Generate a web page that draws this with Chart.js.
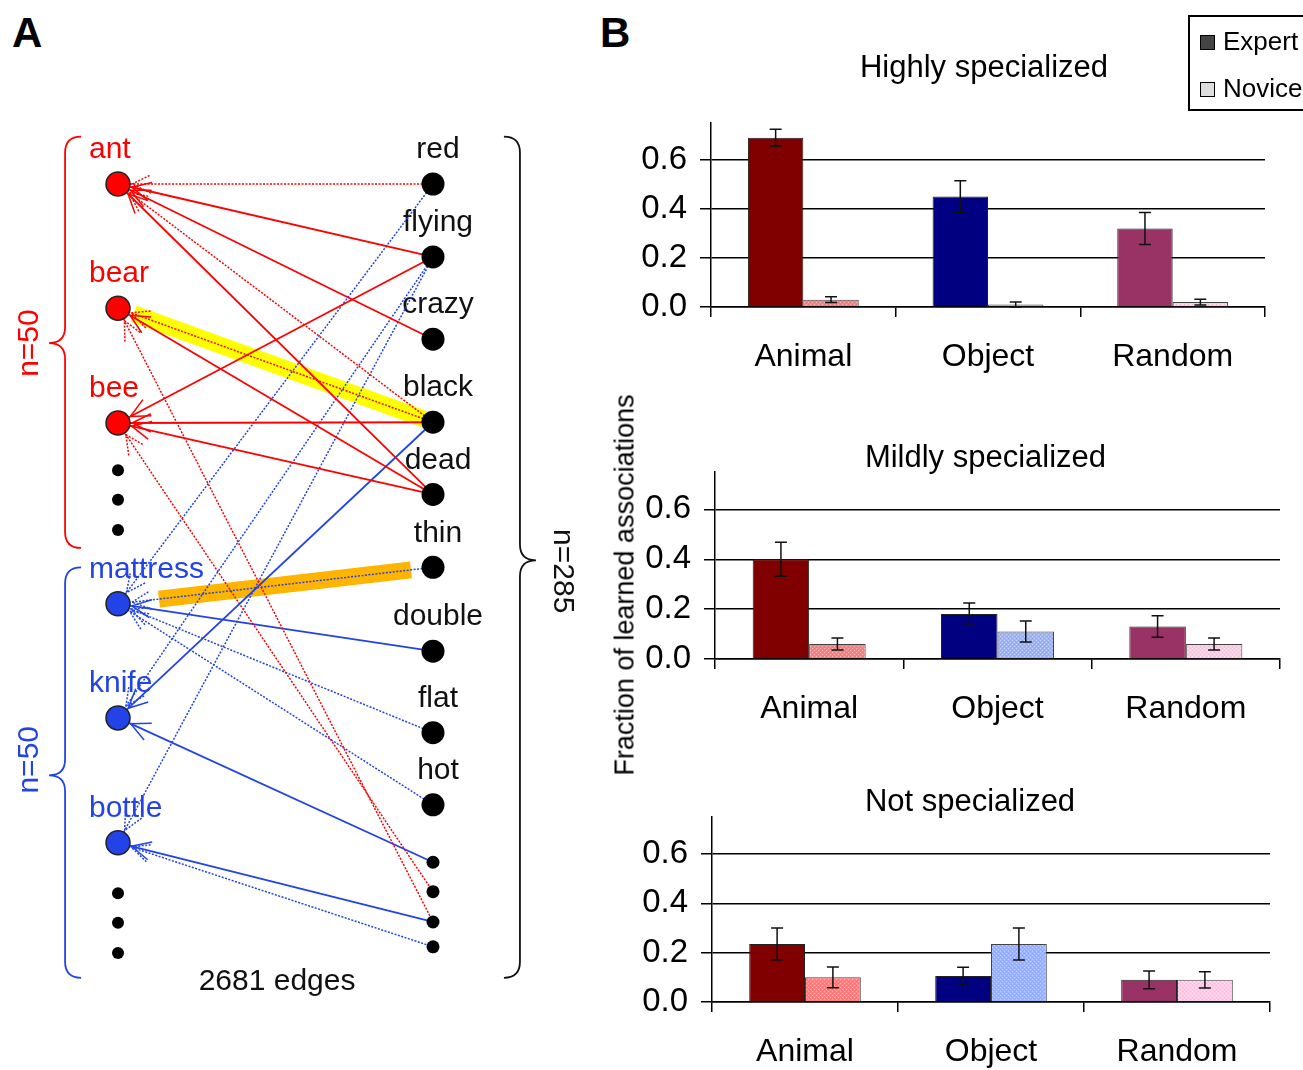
<!DOCTYPE html>
<html>
<head>
<meta charset="utf-8">
<script src="https://cdn.jsdelivr.net/npm/chart.js@4/dist/chart.umd.min.js"></script>
<style>
  html, body { margin: 0; padding: 0; background: #fff; overflow: hidden; }
  body { width: 1303px; height: 1070px; position: relative; font-family: 'Liberation Sans', Arial, sans-serif; }
  canvas { position: absolute; }
  .panel { position: absolute; font-weight: bold; font-size: 42px; line-height: 1; }
  .legend { position: absolute; left: 1188px; top: 15px; width: 140px; height: 92px; border: 2px solid #000; font-size: 26px; }
  .legend div { position: absolute; left: 10px; height: 30px; line-height: 30px; }
  .legend span { display: inline-block; width: 13px; height: 13px; border: 1.5px solid #000; margin-right: 8px; vertical-align: 0px; }
  .ytitle { position: absolute; left: 625px; top: 585px; transform: translate(-50%, -50%) rotate(-90deg); font-size: 27px; white-space: nowrap; }
</style>
</head>
<body>
<div class="panel" style="left:12px;top:12px;">A</div>
<div class="panel" style="left:600px;top:12px;">B</div>
<canvas id="net" width="590" height="1070" style="left:0;top:0;"></canvas>
<canvas id="high" width="703" height="360" style="left:600px;top:30px;"></canvas>
<canvas id="mild" width="703" height="350" style="left:600px;top:400px;"></canvas>
<canvas id="none" width="703" height="315" style="left:600px;top:755px;"></canvas>
<div class="legend">
  <div style="top:9px;"><span style="background:#444;"></span>Expert</div>
  <div style="top:56px;"><span style="background:#ddd;"></span>Novice</div>
</div>
<div class="ytitle">Fraction of learned associations</div>
<script>
Chart.defaults.font.family = "'Liberation Sans', Arial, sans-serif";
Chart.defaults.color = "#000";

// ---- panel A: bipartite network ----
const leftLabels = ["ant", "bear", "bee", "", "", "", "mattress", "knife", "bottle", "", "", ""];
const leftGroup = ["animal", "animal", "animal", "animal", "animal", "animal", "object", "object", "object", "object", "object", "object"];
const leftPos = [0, 1.6, 3.08, 3.69, 4.07, 4.46, 5.41, 6.88, 8.49, 9.14, 9.52, 9.91];
const rightLabels = ["red", "flying", "crazy", "black", "dead", "thin", "double", "flat", "hot", "", "", "", ""];
const rightPos = [0, 0.94, 2.0, 3.07, 4.0, 4.94, 6.02, 7.07, 8.0, 8.74, 9.12, 9.51, 9.83];
// [feature index, noun index, solid "s" / dotted "d"]
const edges = [
  [0, 0, "d"], [1, 0, "s"], [2, 0, "s"], [4, 0, "s"], [3, 0, "d"],
  [1, 2, "s"], [3, 1, "d"], [4, 1, "s"], [3, 2, "s"], [4, 2, "s"],
  [11, 1, "d"], [10, 2, "d"],
  [0, 6, "d"], [1, 7, "d"], [1, 8, "d"], [3, 7, "s"],
  [5, 6, "d"], [6, 6, "s"], [7, 6, "d"], [8, 6, "d"],
  [9, 7, "s"], [11, 8, "s"], [12, 8, "d"]
];
// [feature index, noun index, colour, start fraction, end fraction]
const highlights = [
  [3, 1, "#ffff00", -0.01, 0.95],
  [5, 6, "#ffb400", 0.07, 0.87]
];
const groupColor = { animal: "#ff0000", object: "#2244e6" };

const braces = [
  { x: -0.168, y0: -0.61, y1: 4.69, ym: 2.05, dir: -1, color: "#ff0000", label: "n=50", lx: -0.279, ly: 2.05, rot: -1 },
  { x: -0.168, y0: 4.94, y1: 10.23, ym: 7.62, dir: -1, color: "#2244e6", label: "n=50", lx: -0.279, ly: 7.42, rot: -1 },
  { x: 1.276, y0: -0.61, y1: 10.23, ym: 4.85, dir: 1, color: "#111", label: "n=285", lx: 1.41, ly: 4.99, rot: 1 }
];

function drawBrace(ctx, px, py0, py1, pym, dir, r) {
  ctx.beginPath();
  ctx.moveTo(px - dir * r, py0);
  ctx.quadraticCurveTo(px, py0, px, py0 + r);
  ctx.lineTo(px, pym - r);
  ctx.quadraticCurveTo(px, pym, px + dir * r, pym);
  ctx.quadraticCurveTo(px, pym, px, pym + r);
  ctx.lineTo(px, py1 - r);
  ctx.quadraticCurveTo(px, py1, px - dir * r, py1);
  ctx.stroke();
}

const netDeco = {
  id: "netDeco",
  beforeDatasetsDraw(chart) {
    const { ctx, scales: { x, y } } = chart;
    ctx.save();
    highlights.forEach(([r, l, color, t0, t1]) => {
      const xr = x.getPixelForValue(1), yr = y.getPixelForValue(rightPos[r]);
      const xl = x.getPixelForValue(0), yl = y.getPixelForValue(leftPos[l]);
      ctx.beginPath();
      ctx.moveTo(xr + (xl - xr) * t0, yr + (yl - yr) * t0);
      ctx.lineTo(xr + (xl - xr) * t1, yr + (yl - yr) * t1);
      ctx.strokeStyle = color;
      ctx.lineWidth = 17;
      ctx.lineCap = "butt";
      ctx.stroke();
    });
    ctx.font = "30px 'Liberation Sans', Arial, sans-serif";
    ctx.textBaseline = "middle";
    leftLabels.forEach((lab, i) => {
      if (!lab) return;
      ctx.fillStyle = groupColor[leftGroup[i]];
      ctx.textAlign = "left";
      ctx.fillText(lab, x.getPixelForValue(0) - 29, y.getPixelForValue(leftPos[i]) - 34);
    });
    rightLabels.forEach((lab, i) => {
      if (!lab) return;
      ctx.fillStyle = "#111";
      ctx.textAlign = "center";
      ctx.fillText(lab, x.getPixelForValue(1) + 5, y.getPixelForValue(rightPos[i]) - 34);
    });
    ctx.lineWidth = 1.8;
    braces.forEach(b => {
      ctx.strokeStyle = b.color;
      drawBrace(ctx, x.getPixelForValue(b.x), y.getPixelForValue(b.y0), y.getPixelForValue(b.y1), y.getPixelForValue(b.ym), b.dir, 16);
      ctx.save();
      ctx.translate(x.getPixelForValue(b.lx), y.getPixelForValue(b.ly));
      ctx.rotate(b.rot * Math.PI / 2);
      ctx.fillStyle = b.color;
      ctx.textAlign = "center";
      ctx.fillText(b.label, 0, 0);
      ctx.restore();
    });
    ctx.fillStyle = "#111";
    ctx.textAlign = "center";
    ctx.fillText("2681 edges", x.getPixelForValue(0.505), y.getPixelForValue(10.28));
    ctx.restore();
  },
  afterDatasetsDraw(chart) {
    const { ctx, scales: { x, y } } = chart;
    ctx.save();
    ctx.lineWidth = 1.5;
    edges.forEach(([r, l, kind]) => {
      const xr = x.getPixelForValue(1), yr = y.getPixelForValue(rightPos[r]);
      const xl = x.getPixelForValue(0), yl = y.getPixelForValue(leftPos[l]);
      const len = Math.hypot(xr - xl, yr - yl);
      const dx = (xr - xl) / len, dy = (yr - yl) / len;
      const tx = xl + dx * 14, ty = yl + dy * 14;
      const a = 0.45, s = 21;
      ctx.strokeStyle = groupColor[leftGroup[l]];
      ctx.setLineDash(kind === "d" ? [2, 1.5] : []);
      ctx.beginPath();
      ctx.moveTo(tx + s * (dx * Math.cos(a) - dy * Math.sin(a)), ty + s * (dx * Math.sin(a) + dy * Math.cos(a)));
      ctx.lineTo(tx, ty);
      ctx.lineTo(tx + s * (dx * Math.cos(-a) - dy * Math.sin(-a)), ty + s * (dx * Math.sin(-a) + dy * Math.cos(-a)));
      ctx.stroke();
    });
    ctx.restore();
  }
};

const nodeSets = [
  {
    data: leftLabels.map((l, i) => l ? { x: 0, y: leftPos[i] } : null).filter(Boolean),
    pointBackgroundColor: leftLabels.map((l, i) => l ? groupColor[leftGroup[i]] : null).filter(Boolean),
    pointBorderColor: "#222", pointBorderWidth: 1.5, pointRadius: 12
  },
  {
    data: leftLabels.map((l, i) => l ? null : { x: 0, y: leftPos[i] }).filter(Boolean),
    pointBackgroundColor: "#000", pointBorderWidth: 0, pointRadius: 6
  },
  {
    data: rightLabels.map((l, i) => l ? { x: 1, y: rightPos[i] } : null).filter(Boolean),
    pointBackgroundColor: "#000", pointBorderWidth: 0, pointRadius: 11.5
  },
  {
    data: rightLabels.map((l, i) => l ? null : { x: 1, y: rightPos[i] }).filter(Boolean),
    pointBackgroundColor: "#000", pointBorderWidth: 0, pointRadius: 6.5
  }
];
const edgeSets = edges.map(([r, l, kind]) => ({
  data: [{ x: 1, y: rightPos[r] }, { x: 0, y: leftPos[l] }],
  showLine: true, pointRadius: 0,
  borderColor: groupColor[leftGroup[l]],
  borderWidth: kind === "d" ? 1.5 : 1.8,
  borderDash: kind === "d" ? [2, 1.5] : []
}));

new Chart(document.getElementById("net"), {
  type: "scatter",
  data: { datasets: [...nodeSets, ...edgeSets].map(d => ({ ...d, clip: false })) },
  options: {
    responsive: false,
    animation: false,
    layout: { padding: { left: 118, right: 157, top: 184, bottom: 110 } },
    plugins: { legend: { display: false }, tooltip: { enabled: false } },
    scales: {
      x: { type: "linear", display: false, min: 0, max: 1 },
      y: { type: "linear", display: false, min: 0, max: 10, reverse: true }
    }
  },
  plugins: [netDeco]
});

// ---- panel B: bar charts ----
const groups = ["Animal", "Object", "Random"];
const yTicks = [0, 0.2, 0.4, 0.6];
const expertColors = ["#800000", "#000080", "#993366"];
const noviceColors = ["#ff8080", "#9cb4ff", "#ffcce8"];

const highExpert = [0.69, 0.45, 0.32];
const highExpertErr = [0.035, 0.065, 0.065];
const highNovice = [0.03, 0.01, 0.02];
const highNoviceErr = [0.012, 0.01, 0.012];

const mildExpert = [0.40, 0.18, 0.13];
const mildExpertErr = [0.068, 0.045, 0.043];
const mildNovice = [0.06, 0.11, 0.06];
const mildNoviceErr = [0.024, 0.042, 0.024];

const notExpert = [0.235, 0.105, 0.09];
const notExpertErr = [0.065, 0.036, 0.036];
const notNovice = [0.10, 0.235, 0.09];
const notNoviceErr = [0.042, 0.065, 0.033];

// light stippled fill like the novice bars
function stipple(color) {
  const c = document.createElement("canvas");
  c.width = 4; c.height = 4;
  const g = c.getContext("2d");
  g.fillStyle = color; g.fillRect(0, 0, 4, 4);
  g.fillStyle = "rgba(255,255,255,0.45)";
  g.fillRect(0, 0, 1, 1); g.fillRect(2, 2, 1, 1);
  g.fillStyle = "rgba(0,0,0,0.08)";
  g.fillRect(2, 0, 1, 1); g.fillRect(0, 2, 1, 1);
  return g.createPattern(c, "repeat");
}

const errorBars = {
  id: "errorBars",
  afterDatasetsDraw(chart) {
    const { ctx } = chart;
    const ys = chart.scales.y;
    ctx.save();
    ctx.strokeStyle = "#111";
    ctx.lineWidth = 1.5;
    chart.data.datasets.forEach((ds, di) => {
      chart.getDatasetMeta(di).data.forEach((bar, i) => {
        const top = ys.getPixelForValue(ds.data[i] + ds.errors[i]);
        const bot = ys.getPixelForValue(ds.data[i] - ds.errors[i]);
        ctx.beginPath();
        ctx.moveTo(bar.x, top); ctx.lineTo(bar.x, bot);
        ctx.moveTo(bar.x - 6, top); ctx.lineTo(bar.x + 6, top);
        ctx.moveTo(bar.x - 6, bot); ctx.lineTo(bar.x + 6, bot);
        ctx.stroke();
      });
    });
    ctx.restore();
  }
};

// panel heading, centred over the plot with a small shift
const panelTitle = {
  id: "panelTitle",
  afterDraw(chart, args, opts) {
    const { ctx, chartArea } = chart;
    ctx.save();
    ctx.font = "31px 'Liberation Sans', Arial, sans-serif";
    ctx.fillStyle = "#000";
    ctx.textAlign = "center";
    ctx.textBaseline = "middle";
    ctx.fillText(opts.text, (chartArea.left + chartArea.right) / 2 + opts.dx, opts.y);
    ctx.restore();
  }
};

function barChart(id, title, expert, expertErr, novice, noviceErr, g) {
  return new Chart(document.getElementById(id), {
    type: "bar",
    data: {
      labels: groups,
      datasets: [
        { label: "Expert", data: expert, errors: expertErr, backgroundColor: expertColors, borderColor: "#222", borderWidth: 1 },
        { label: "Novice", data: novice, errors: noviceErr, backgroundColor: noviceColors.map(stipple), borderColor: "#444", borderWidth: 1 }
      ]
    },
    options: {
      responsive: false,
      animation: false,
      layout: { padding: { left: 0, right: g.padR, top: g.padT, bottom: 0 } },
      datasets: { bar: { categoryPercentage: 0.6, barPercentage: 1.0 } },
      plugins: {
        legend: { display: false },
        tooltip: { enabled: false },
        panelTitle: { text: title, dx: g.dx, y: g.ty }
      },
      scales: {
        x: {
          grid: { offset: true, drawOnChartArea: false, drawTicks: true, tickLength: 10, color: "#000", lineWidth: 1.5 },
          border: { display: true, color: "#000", width: 1.5 },
          ticks: { font: { size: 32 }, color: "#000", padding: 21, maxRotation: 0 },
          afterFit(s) { s.height = g.xH; }
        },
        y: {
          min: 0, max: 0.75,
          afterBuildTicks(s) { s.ticks = yTicks.map(v => ({ value: v })); },
          grid: { color: "#000", lineWidth: 1.5, tickLength: 11 },
          border: { display: true, color: "#000", width: 1.5 },
          ticks: { font: { size: 33 }, color: "#000", padding: 13, callback: v => v.toFixed(1) },
          afterFit(s) { s.width = g.yW; }
        }
      }
    },
    plugins: [errorBars, panelTitle]
  });
}

barChart("high", "Highly specialized", highExpert, highExpertErr, highNovice, highNoviceErr,
  { yW: 111, padR: 38, padT: 93, xH: 83, dx: -4, ty: 38 });
barChart("mild", "Mildly specialized", mildExpert, mildExpertErr, mildNovice, mildNoviceErr,
  { yW: 115, padR: 23, padT: 72, xH: 91, dx: -12, ty: 58 });
barChart("none", "Not specialized", notExpert, notExpertErr, notNovice, notNoviceErr,
  { yW: 112, padR: 33, padT: 62, xH: 68, dx: -21, ty: 47 });
</script>
</body>
</html>
